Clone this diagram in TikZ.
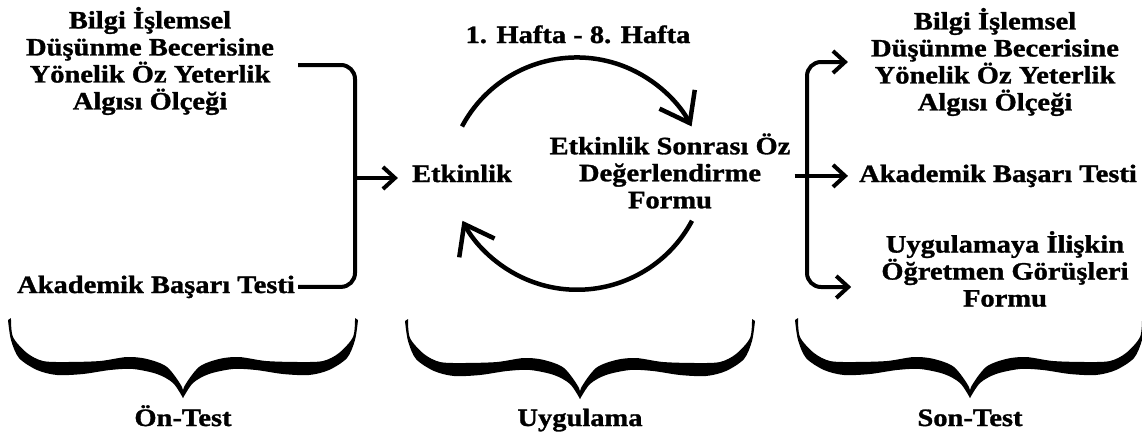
\documentclass[tikz,border=0pt]{standalone}
\usepackage{fontspec}
\setmainfont{Liberation Serif}[FakeStretch=1.14, BoldFeatures={FakeBold=1.2}]
\usetikzlibrary{arrows.meta,calc}

\tikzset{
  lbl/.style={font=\fontsize{25}{27}\selectfont\bfseries, align=center, inner sep=0pt},
  brk/.style={line width=4pt, rounded corners=14pt},
  tipS/.style={-{Straight Barb[length=12pt,width=22pt]}},
  cyc/.style={line width=4.5pt, -{Straight Barb[length=27pt,width=40pt]}},
  % one half of a calligraphic under-brace, tip at the origin
  halfbrace/.pic={
    \fill plot[smooth,tension=0.5] coordinates {(-172,80) (-170,61) (-156,45) (-140,37) (-116,36) (-83,37) (-56,41) (-36,39) (-16,31) (-1,11) (0,0)}
      -- plot[smooth,tension=0.5] coordinates {(0,0) (-10,15) (-26,24) (-50,29) (-73,28) (-100,24) (-126,23) (-146,28) (-164,40) (-172,58) (-175,78)}
      -- cycle;
  },
  wbrace/.pic={
    \pic {halfbrace};
    \pic[xscale=-1] {halfbrace};
  }
}

\begin{document}
\begin{tikzpicture}[x=1pt,y=1pt]
\useasboundingbox (0,0) rectangle (1142,-434);

% pre-test instruments
\node[lbl] (lb) at (150,-61) {Bilgi İşlemsel\\Düşünme Becerisine\\Yönelik Öz Yeterlik\\Algısı Ölçeği};
\node[lbl,anchor=base] (la) at (156,-293) {Akademik Başarı Testi};

% application cycle
\node[lbl,anchor=base] (wk) at (578,-43) {1. Hafta - 8. Hafta};
\node[lbl,anchor=base] (etk) at (462,-182) {Etkinlik};
\node[lbl] (sp) at (670,-171) {Etkinlik Sonrası Öz\\Değerlendirme\\Formu};

% post-test instruments
\node[lbl] (rb1) at (995,-62) {Bilgi İşlemsel\\Düşünme Becerisine\\Yönelik Öz Yeterlik\\Algısı Ölçeği};
\node[lbl,anchor=base] (rm) at (998,-182) {Akademik Başarı Testi};
\node[lbl] (rb3) at (1005,-269) {Uygulamaya İlişkin\\Öğretmen Görüşleri\\Formu};

% phase labels
\node[lbl,anchor=base] (p1) at (183,-426) {Ön-Test};
\node[lbl,anchor=base] (p2) at (580,-426) {Uygulama};
\node[lbl,anchor=base] (p3) at (970,-426) {Son-Test};

% left bracket joining the pre-tests
\coordinate (jl) at (355,-178);
\draw[brk] ([shift={(24,-4)}]lb.east) -| (jl) |- ([xshift=3pt]la.east);
\draw[line width=4pt, tipS, shorten >=14pt] (jl) -- (etk.west |- jl);

% weekly cycle
\draw[cyc] ([yshift=38pt]etk.north) arc[start angle=152, end angle=28, radius=130];
\draw[cyc] ([shift={(22,-12)}]sp.south) arc[start angle=-28, end angle=-152, radius=130];

% right bracket fanning out to the post-tests
\coordinate (jr) at (807,-175);
\draw[brk, tipS, shorten >=23pt] (jr) |- (rb1.west);
\draw[brk, tipS, shorten >=30pt] (jr) |- ([yshift=-18pt]rb3.west);
\draw[line width=4pt, tipS, shorten >=11pt] ([xshift=4pt]sp.east |- rm.west) -- (rm.west);

% phase braces
\pic at (183,-398) {wbrace};
\pic at (580,-399) {wbrace};
\pic at (970,-398) {wbrace};
\end{tikzpicture}
\end{document}
